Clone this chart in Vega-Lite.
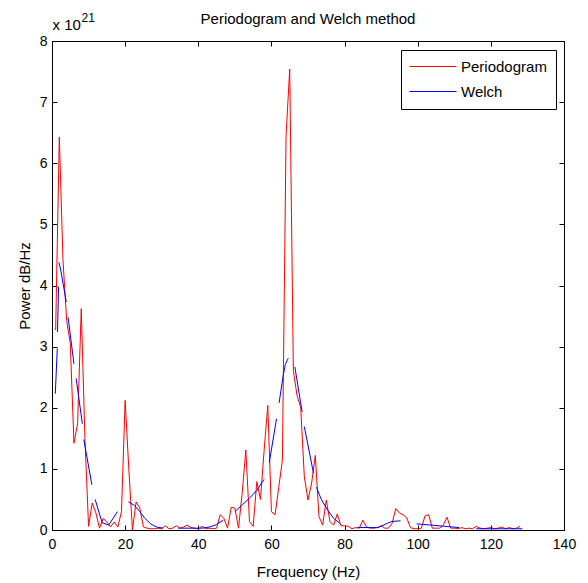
{
  "$schema": "https://vega.github.io/schema/vega-lite/v6.json",
  "width": 512,
  "height": 489,
  "autosize": {"type": "none"},
  "padding": {"left": 52, "top": 41, "right": 24, "bottom": 53},
  "background": "white",
  "config": {
    "font": "Liberation Sans",
    "view": {"stroke": "black", "strokeWidth": 1},
    "axis": {
      "grid": false,
      "domainColor": "black",
      "tickColor": "black",
      "labelColor": "black",
      "titleColor": "black",
      "labelFont": "Liberation Sans",
      "titleFont": "Liberation Sans",
      "labelFontSize": 14,
      "titleFontSize": 15,
      "titleFontWeight": "normal",
      "tickSize": -5,
      "domainWidth": 1,
      "tickWidth": 1,
      "labelFlush": false
    }
  },
  "datasets": {
    "periodogram": [
      {"f":1,"p":3.27,"s":"Periodogram"},{"f":2,"p":6.43,"s":"Periodogram"},{"f":3,"p":4.42,"s":"Periodogram"},{"f":4,"p":3.43,"s":"Periodogram"},
      {"f":5,"p":3.05,"s":"Periodogram"},{"f":6,"p":1.42,"s":"Periodogram"},{"f":7,"p":1.74,"s":"Periodogram"},{"f":8,"p":3.62,"s":"Periodogram"},
      {"f":9,"p":1.5,"s":"Periodogram"},{"f":10,"p":0.06,"s":"Periodogram"},{"f":11,"p":0.44,"s":"Periodogram"},{"f":12,"p":0.28,"s":"Periodogram"},
      {"f":13,"p":0.03,"s":"Periodogram"},{"f":14,"p":0.19,"s":"Periodogram"},{"f":15,"p":0.13,"s":"Periodogram"},{"f":16,"p":0.05,"s":"Periodogram"},
      {"f":17,"p":0.13,"s":"Periodogram"},{"f":18,"p":0.05,"s":"Periodogram"},{"f":19,"p":0.3,"s":"Periodogram"},{"f":20,"p":2.12,"s":"Periodogram"},
      {"f":21,"p":1.0,"s":"Periodogram"},{"f":22,"p":0.0,"s":"Periodogram"},{"f":23,"p":0.46,"s":"Periodogram"},{"f":24,"p":0.36,"s":"Periodogram"},
      {"f":25,"p":0.05,"s":"Periodogram"},{"f":26,"p":0.03,"s":"Periodogram"},{"f":27,"p":0.02,"s":"Periodogram"},{"f":28,"p":0.02,"s":"Periodogram"},
      {"f":29,"p":0.03,"s":"Periodogram"},{"f":30,"p":0.02,"s":"Periodogram"},{"f":31,"p":0.07,"s":"Periodogram"},{"f":32,"p":0.02,"s":"Periodogram"},
      {"f":33,"p":0.03,"s":"Periodogram"},{"f":34,"p":0.07,"s":"Periodogram"},{"f":35,"p":0.03,"s":"Periodogram"},{"f":36,"p":0.05,"s":"Periodogram"},
      {"f":37,"p":0.08,"s":"Periodogram"},{"f":38,"p":0.04,"s":"Periodogram"},{"f":39,"p":0.03,"s":"Periodogram"},{"f":40,"p":0.02,"s":"Periodogram"},
      {"f":41,"p":0.06,"s":"Periodogram"},{"f":42,"p":0.02,"s":"Periodogram"},{"f":43,"p":0.03,"s":"Periodogram"},{"f":44,"p":0.02,"s":"Periodogram"},
      {"f":45,"p":0.03,"s":"Periodogram"},{"f":46,"p":0.25,"s":"Periodogram"},{"f":47,"p":0.19,"s":"Periodogram"},{"f":48,"p":0.03,"s":"Periodogram"},
      {"f":49,"p":0.37,"s":"Periodogram"},{"f":50,"p":0.36,"s":"Periodogram"},{"f":51,"p":0.03,"s":"Periodogram"},{"f":52,"p":0.6,"s":"Periodogram"},
      {"f":53,"p":1.31,"s":"Periodogram"},{"f":54,"p":0.14,"s":"Periodogram"},{"f":55,"p":0.06,"s":"Periodogram"},{"f":56,"p":0.79,"s":"Periodogram"},
      {"f":57,"p":0.5,"s":"Periodogram"},{"f":58,"p":1.3,"s":"Periodogram"},{"f":59,"p":2.04,"s":"Periodogram"},{"f":60,"p":0.3,"s":"Periodogram"},
      {"f":61,"p":0.25,"s":"Periodogram"},{"f":62,"p":0.7,"s":"Periodogram"},{"f":63,"p":1.14,"s":"Periodogram"},{"f":64,"p":6.45,"s":"Periodogram"},
      {"f":65,"p":7.54,"s":"Periodogram"},{"f":66,"p":2.61,"s":"Periodogram"},{"f":67,"p":2.2,"s":"Periodogram"},{"f":68,"p":2.01,"s":"Periodogram"},
      {"f":69,"p":0.87,"s":"Periodogram"},{"f":70,"p":0.49,"s":"Periodogram"},{"f":71,"p":0.77,"s":"Periodogram"},{"f":72,"p":1.22,"s":"Periodogram"},
      {"f":73,"p":0.22,"s":"Periodogram"},{"f":74,"p":0.08,"s":"Periodogram"},{"f":75,"p":0.49,"s":"Periodogram"},{"f":76,"p":0.14,"s":"Periodogram"},
      {"f":77,"p":0.08,"s":"Periodogram"},{"f":78,"p":0.26,"s":"Periodogram"},{"f":79,"p":0.07,"s":"Periodogram"},{"f":80,"p":0.07,"s":"Periodogram"},
      {"f":81,"p":0.06,"s":"Periodogram"},{"f":82,"p":0.02,"s":"Periodogram"},{"f":83,"p":0.04,"s":"Periodogram"},{"f":84,"p":0.03,"s":"Periodogram"},
      {"f":85,"p":0.16,"s":"Periodogram"},{"f":86,"p":0.05,"s":"Periodogram"},{"f":87,"p":0.03,"s":"Periodogram"},{"f":88,"p":0.03,"s":"Periodogram"},
      {"f":89,"p":0.04,"s":"Periodogram"},{"f":90,"p":0.07,"s":"Periodogram"},{"f":91,"p":0.03,"s":"Periodogram"},{"f":92,"p":0.03,"s":"Periodogram"},
      {"f":93,"p":0.11,"s":"Periodogram"},{"f":94,"p":0.35,"s":"Periodogram"},{"f":95,"p":0.28,"s":"Periodogram"},{"f":96,"p":0.25,"s":"Periodogram"},
      {"f":97,"p":0.2,"s":"Periodogram"},{"f":98,"p":0.04,"s":"Periodogram"},{"f":99,"p":0.02,"s":"Periodogram"},{"f":100,"p":0.02,"s":"Periodogram"},
      {"f":101,"p":0.03,"s":"Periodogram"},{"f":102,"p":0.23,"s":"Periodogram"},{"f":103,"p":0.25,"s":"Periodogram"},{"f":104,"p":0.03,"s":"Periodogram"},
      {"f":105,"p":0.03,"s":"Periodogram"},{"f":106,"p":0.03,"s":"Periodogram"},{"f":107,"p":0.08,"s":"Periodogram"},{"f":108,"p":0.21,"s":"Periodogram"},
      {"f":109,"p":0.03,"s":"Periodogram"},{"f":110,"p":0.03,"s":"Periodogram"},{"f":111,"p":0.02,"s":"Periodogram"},{"f":112,"p":0.04,"s":"Periodogram"},
      {"f":113,"p":0.02,"s":"Periodogram"},{"f":114,"p":0.03,"s":"Periodogram"},{"f":115,"p":0.02,"s":"Periodogram"},{"f":116,"p":0.06,"s":"Periodogram"},
      {"f":117,"p":0.03,"s":"Periodogram"},{"f":118,"p":0.02,"s":"Periodogram"},{"f":119,"p":0.03,"s":"Periodogram"},{"f":120,"p":0.04,"s":"Periodogram"},
      {"f":121,"p":0.02,"s":"Periodogram"},{"f":122,"p":0.03,"s":"Periodogram"},{"f":123,"p":0.05,"s":"Periodogram"},{"f":124,"p":0.02,"s":"Periodogram"},
      {"f":125,"p":0.04,"s":"Periodogram"},{"f":126,"p":0.02,"s":"Periodogram"},{"f":127,"p":0.03,"s":"Periodogram"},{"f":128,"p":0.06,"s":"Periodogram"}
    ],
    "welch": [
      {"f":0.9,"p":2.23,"s":"Welch","seg":1},{"f":1.45,"p":2.97,"s":"Welch","seg":1},
      {"f":1.5,"p":3.24,"s":"Welch","seg":2},{"f":1.8,"p":3.98,"s":"Welch","seg":2},
      {"f":1.9,"p":4.38,"s":"Welch","seg":3},{"f":2.4,"p":4.25,"s":"Welch","seg":3},{"f":3.9,"p":3.73,"s":"Welch","seg":3},
      {"f":4.4,"p":3.48,"s":"Welch","seg":4},{"f":6.0,"p":2.72,"s":"Welch","seg":4},
      {"f":6.6,"p":2.48,"s":"Welch","seg":5},{"f":8.3,"p":1.74,"s":"Welch","seg":5},
      {"f":8.7,"p":1.48,"s":"Welch","seg":6},{"f":10.9,"p":0.74,"s":"Welch","seg":6},
      {"f":11.8,"p":0.5,"s":"Welch","seg":7},{"f":13.7,"p":0.12,"s":"Welch","seg":7},{"f":15.5,"p":0.08,"s":"Welch","seg":7},{"f":17.9,"p":0.3,"s":"Welch","seg":7},
      {"f":20.9,"p":0.46,"s":"Welch","seg":8},{"f":22.6,"p":0.4,"s":"Welch","seg":8},{"f":24,"p":0.3,"s":"Welch","seg":8},{"f":25.4,"p":0.19,"s":"Welch","seg":8},{"f":27,"p":0.1,"s":"Welch","seg":8},{"f":28.5,"p":0.05,"s":"Welch","seg":8},{"f":30.4,"p":0.03,"s":"Welch","seg":8},
      {"f":34.5,"p":0.03,"s":"Welch","seg":9},{"f":38,"p":0.03,"s":"Welch","seg":9},{"f":41,"p":0.03,"s":"Welch","seg":9},{"f":43.2,"p":0.05,"s":"Welch","seg":9},{"f":45,"p":0.09,"s":"Welch","seg":9},{"f":46.8,"p":0.16,"s":"Welch","seg":9},
      {"f":50,"p":0.3,"s":"Welch","seg":10},{"f":52,"p":0.41,"s":"Welch","seg":10},{"f":54,"p":0.52,"s":"Welch","seg":10},{"f":56,"p":0.65,"s":"Welch","seg":10},{"f":58,"p":0.83,"s":"Welch","seg":10},
      {"f":59.4,"p":1.1,"s":"Welch","seg":11},{"f":61.4,"p":1.82,"s":"Welch","seg":11},
      {"f":62.1,"p":2.08,"s":"Welch","seg":12},{"f":63.2,"p":2.52,"s":"Welch","seg":12},{"f":63.8,"p":2.71,"s":"Welch","seg":12},{"f":64.6,"p":2.81,"s":"Welch","seg":12},
      {"f":66.4,"p":2.67,"s":"Welch","seg":13},{"f":68.4,"p":1.93,"s":"Welch","seg":13},
      {"f":69.0,"p":1.69,"s":"Welch","seg":14},{"f":71.5,"p":0.93,"s":"Welch","seg":14},
      {"f":72.3,"p":0.7,"s":"Welch","seg":15},{"f":73.5,"p":0.52,"s":"Welch","seg":15},{"f":75,"p":0.36,"s":"Welch","seg":15},{"f":77,"p":0.19,"s":"Welch","seg":15},{"f":78.7,"p":0.11,"s":"Welch","seg":15},
      {"f":83.5,"p":0.04,"s":"Welch","seg":16},{"f":89.2,"p":0.04,"s":"Welch","seg":16},{"f":91.7,"p":0.11,"s":"Welch","seg":16},{"f":93,"p":0.14,"s":"Welch","seg":16},{"f":95.3,"p":0.15,"s":"Welch","seg":16},
      {"f":99.7,"p":0.1,"s":"Welch","seg":17},{"f":103.8,"p":0.08,"s":"Welch","seg":17},{"f":111.3,"p":0.04,"s":"Welch","seg":17},
      {"f":116,"p":0.02,"s":"Welch","seg":18},{"f":128.6,"p":0.02,"s":"Welch","seg":18}
    ],
    "one": [{"k": 1}]
  },
  "resolve": {"axis": {"x": "independent", "y": "independent"}},
  "layer": [
    {
      "data": {"name": "periodogram"},
      "mark": {"type": "line", "strokeWidth": 1, "clip": true},
      "encoding": {
        "x": {"field": "f", "type": "quantitative", "scale": {"domain": [0, 140], "nice": false},
              "axis": {"orient": "bottom", "values": [0, 20, 40, 60, 80, 100, 120, 140], "title": "Frequency (Hz)", "labelPadding": 12, "titlePadding": 13}},
        "y": {"field": "p", "type": "quantitative", "scale": {"domain": [0, 8], "nice": false},
              "axis": {"orient": "left", "values": [0, 1, 2, 3, 4, 5, 6, 7, 8], "title": "Power dB/Hz", "labelPadding": 10, "titlePadding": 7}},
        "color": {"field": "s", "type": "nominal",
                  "scale": {"domain": ["Periodogram", "Welch"], "range": ["#ff0000", "#0000ff"]},
                  "legend": {"orient": "top-right", "offset": 8.5, "title": null, "fillColor": "white", "strokeColor": "black",
                             "padding": 9, "labelFont": "Liberation Sans", "labelFontSize": 15, "labelColor": "black",
                             "symbolType": "M-1.6,0H7.8", "symbolSize": 100, "symbolStrokeWidth": 1, "labelOffset": 36, "rowPadding": 9}}
      }
    },
    {
      "data": {"name": "welch"},
      "mark": {"type": "line", "strokeWidth": 1, "clip": true},
      "encoding": {
        "x": {"field": "f", "type": "quantitative", "axis": {"orient": "top", "values": [0, 20, 40, 60, 80, 100, 120, 140], "labels": false, "title": null}},
        "y": {"field": "p", "type": "quantitative", "axis": {"orient": "right", "values": [0, 1, 2, 3, 4, 5, 6, 7, 8], "labels": false, "title": null}},
        "color": {"field": "s", "type": "nominal"},
        "detail": {"field": "seg", "type": "nominal"}
      }
    },
    {
      "data": {"name": "one"},
      "mark": {"type": "text", "text": "Periodogram and Welch method", "align": "center", "baseline": "alphabetic", "fontSize": 15, "font": "Liberation Sans", "color": "black", "dy": -17.5},
      "encoding": {
        "x": {"datum": 70, "type": "quantitative", "axis": null},
        "y": {"datum": 8, "type": "quantitative", "axis": null}
      }
    },
    {
      "data": {"name": "one"},
      "mark": {"type": "text", "text": "x 10", "align": "left", "baseline": "alphabetic", "fontSize": 15, "font": "Liberation Sans", "color": "black", "dx": 0.5, "dy": -11},
      "encoding": {
        "x": {"datum": 0, "type": "quantitative", "axis": null},
        "y": {"datum": 8, "type": "quantitative", "axis": null}
      }
    },
    {
      "data": {"name": "one"},
      "mark": {"type": "text", "text": "21", "align": "left", "baseline": "alphabetic", "fontSize": 12, "font": "Liberation Sans", "color": "black", "dx": 29.5, "dy": -19.5},
      "encoding": {
        "x": {"datum": 0, "type": "quantitative", "axis": null},
        "y": {"datum": 8, "type": "quantitative", "axis": null}
      }
    }
  ]
}
